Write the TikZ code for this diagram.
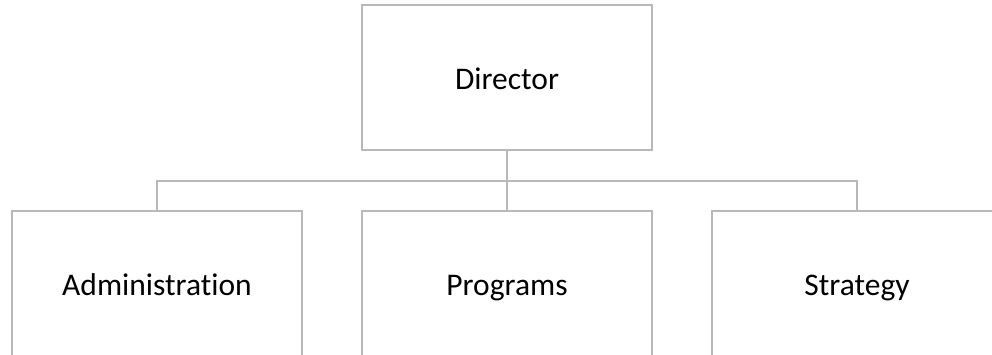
\documentclass[tikz,border=0pt]{standalone}
\usepackage{fontspec}
\setmainfont{Carlito}[Ligatures=NoCommon]
\definecolor{boxgray}{RGB}{184,184,184}
\tikzset{
  orgbox/.style={draw=boxgray, line width=2.6pt, fill=white, minimum width=290pt, minimum height=145pt, inner sep=0pt, text height=24pt, text depth=0pt, font=\fontsize{31.5pt}{36pt}\selectfont, text=black},
  link/.style={draw=boxgray, line width=2.6pt}
}
\begin{document}
\begin{tikzpicture}[x=1pt,y=-1pt]
\useasboundingbox (0,0) rectangle (992,355);
\clip (0,0) rectangle (992,355);
\node[orgbox] (dir) at (507,77.5) {Director};
\node[orgbox] (adm) at (157,283.5) {Administration};
\node[orgbox] (prg) at (507,283.5) {Programs};
\node[orgbox] (str) at (857,283.5) {Strategy};
\coordinate (bar) at (507,181);
\draw[link] (dir.south) -- (bar);
\draw[link] (adm.north) |- (bar) -| (str.north);
\draw[link] (bar) -- (prg.north);
\end{tikzpicture}
\end{document}
